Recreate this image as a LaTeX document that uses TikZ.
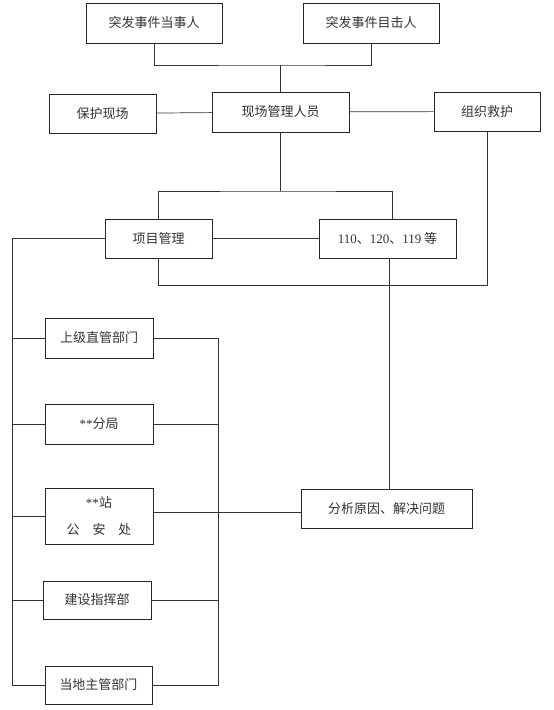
\documentclass[tikz,border=0pt]{standalone}
\usepackage{fontspec}
\setmainfont{Liberation Serif}
\newfontfamily\cjk{Noto Sans CJK SC}
\begin{document}
\begin{tikzpicture}[x=1pt,y=-1pt,
  box/.style={draw=black!85, line width=0.7pt, rectangle, inner sep=0pt,
    font=\fontsize{13}{27}\selectfont\cjk, text=black!80},
  conn/.style={draw=black!80, line width=0.7pt}]
\useasboundingbox[fill=white] (0,0) rectangle (554,710);
% nodes
\node[box, minimum width=136pt, minimum height=40pt] (a) at (154,23) {突发事件当事人};
\node[box, minimum width=136pt, minimum height=40pt] (b) at (371,23) {突发事件目击人};
\node[box, minimum width=107pt, minimum height=39pt] (c) at (102.5,113.5) {保护现场};
\node[box, minimum width=137pt, minimum height=40pt] (d) at (280.5,112) {现场管理人员};
\node[box, minimum width=106pt, minimum height=39pt] (e) at (487,111.5) {组织救护};
\node[box, minimum width=107pt, minimum height=39pt] (f) at (158.5,238.5) {项目管理};
\node[box, minimum width=137pt, minimum height=39pt] (g) at (387.5,238.5) {{\rmfamily 110}、{\rmfamily 120}、{\rmfamily 119} 等};
\node[box, minimum width=108pt, minimum height=40pt] (h) at (99,338) {上级直管部门};
\node[box, minimum width=108pt, minimum height=40pt] (i) at (99,424) {{\rmfamily **}分局};
\node[box, minimum width=108pt, minimum height=56pt, align=center] (j) at (99,516) {{\rmfamily **}站\\公\hspace{1em}安\hspace{1em}处};
\node[box, minimum width=108pt, minimum height=38pt] (k) at (97,600) {建设指挥部};
\node[box, minimum width=107pt, minimum height=38pt] (l) at (98.5,685) {当地主管部门};
\node[box, minimum width=171pt, minimum height=39pt] (m) at (386.5,508.5) {分析原因、解决问题};
% junctions
\coordinate (J1) at (280.5,65);
\coordinate (J2) at (280.5,191);
\coordinate (J3) at (0,285);
\coordinate (BL) at (12,0);
\coordinate (BR) at (218,0);
% connectors
\draw[conn] (a.south) |- (J1) -| (b.south);
\draw[conn] (J1) -- (d.north);
\draw[conn] (c) -- (d);
\draw[conn] (d) -- (e);
\draw[conn] (d.south) -- (J2);
\draw[conn] (f.north) |- (J2) -| ([xshift=5pt]g.north);
\draw[conn] (f) -- (g);
\draw[conn] (f.south) |- (J3 -| e.south) -- (e.south);
\draw[conn] ([xshift=1.5pt]g.south) -- ([xshift=1.5pt]g.south |- m.north);
\draw[conn] (f.west) -| (BL |- l.west) -- (l.west);
\draw[conn] (BL |- h.west) -- (h.west);
\draw[conn] (BL |- i.west) -- (i.west);
\draw[conn] (BL |- j.west) -- (j.west);
\draw[conn] (BL |- k.west) -- (k.west);
\draw[conn] (h.east) -| (BR |- l.east) -- (l.east);
\draw[conn] (i.east) -- (BR |- i.east);
\draw[conn] (k.east) -- (BR |- k.east);
\draw[conn] ([yshift=4pt]j.east) -- ([yshift=4pt]j.east -| m.west);
\end{tikzpicture}
\end{document}
